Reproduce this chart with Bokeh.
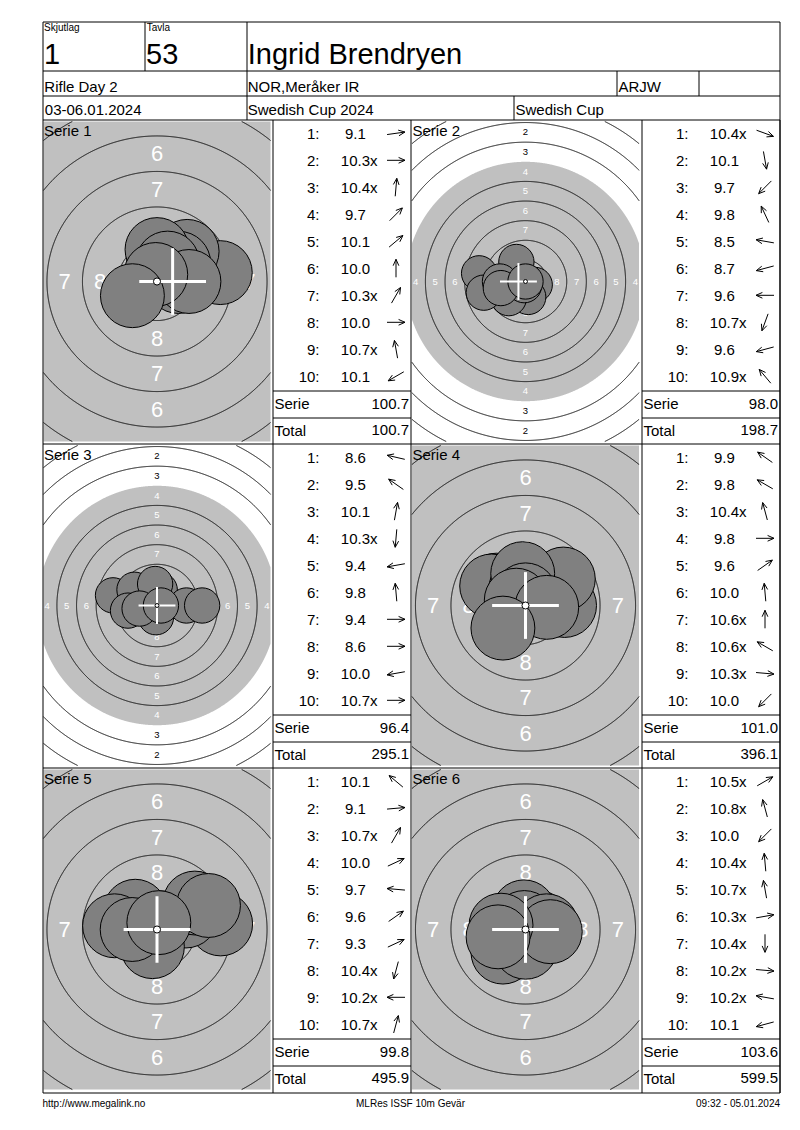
import numpy as np
from bokeh.plotting import figure
from bokeh.models import Range1d
from bokeh.core.properties import value
from bokeh.embed import file_html
from bokeh.resources import INLINE

# ---------------- data ----------------
relay_label = "Skjutlag"
target_label = "Tavla"
relay = "1"
target_no = "53"
shooter = "Ingrid Brendryen"
event_name = "Rifle Day 2"
club = "NOR,Meråker IR"
shooter_class = "ARJW"
dates = "03-06.01.2024"
competition = "Swedish Cup 2024"
cup_name = "Swedish Cup"
footer_left = "http://www.megalink.no"
footer_mid = "MLRes ISSF 10m Gevär"
footer_right = "09:32 - 05.01.2024"

series_names = ["Serie 1", "Serie 2", "Serie 3", "Serie 4", "Serie 5", "Serie 6"]

serie1_scores = ["9.1", "10.3x", "10.4x", "9.7", "10.1", "10.0", "10.3x", "10.0", "10.7x", "10.1"]
serie1_dir_deg = [8, 0, 85, 45, 40, 90, 60, 0, 100, 210]
serie2_scores = ["10.4x", "10.1", "9.7", "9.8", "8.5", "8.7", "9.6", "10.7x", "9.6", "10.9x"]
serie2_dir_deg = [-20, -80, 225, 115, 170, 195, 180, 250, 195, 130]
serie3_scores = ["8.6", "9.5", "10.1", "10.3x", "9.4", "9.8", "9.4", "8.6", "10.0", "10.7x"]
serie3_dir_deg = [167, 145, 80, 265, 190, 95, 0, 0, 190, 0]
serie4_scores = ["9.9", "9.8", "10.4x", "9.8", "9.6", "10.0", "10.6x", "10.6x", "10.3x", "10.0"]
serie4_dir_deg = [145, 150, 105, 0, 35, 95, 90, 150, -5, 225]
serie5_scores = ["10.1", "9.1", "10.7x", "10.0", "9.7", "9.6", "9.3", "10.4x", "10.2x", "10.7x"]
serie5_dir_deg = [140, 5, 60, 25, 175, 35, 25, 255, 180, 75]
serie6_scores = ["10.5x", "10.8x", "10.0", "10.4x", "10.7x", "10.3x", "10.4x", "10.2x", "10.2x", "10.1"]
serie6_dir_deg = [30, 105, 225, 95, 100, 10, 270, -5, 170, 195]

series_sum = ["100.7", "98.0", "96.4", "101.0", "99.8", "103.6"]
running_total = ["100.7", "198.7", "295.1", "396.1", "495.9", "599.5"]

# marked cross (offset from target centre, mm)
cross_x_mm = [1.1, -0.9, 0.0, 0.0, 0.0, 0.0]
cross_y_mm = [0.0, 0.0, 0.0, 0.0, 0.0, 0.0]

# ISSF 10 m air rifle target geometry (mm)
ring_numbers = [1, 2, 3, 4, 5, 6, 7, 8, 9]
ring_radius_mm = [22.75, 20.25, 17.75, 15.25, 12.75, 10.25, 7.75, 5.25, 2.75]
band_numbers = [1, 2, 3, 4, 5, 6, 7, 8]
band_mid_mm = [21.5, 19.0, 16.5, 14.0, 11.5, 9.0, 6.5, 4.0]
aim_radius_mm = 15.25
ten_dot_mm = 0.25
pellet_radius_mm = 2.25
cross_half_mm = 2.35

all_scores = [serie1_scores, serie2_scores, serie3_scores, serie4_scores, serie5_scores, serie6_scores]
all_dirs = [serie1_dir_deg, serie2_dir_deg, serie3_dir_deg, serie4_dir_deg, serie5_dir_deg, serie6_dir_deg]

# ---------------- styles / layout ----------------
FONT = value("Liberation Sans")
GRAY = "#c0c0c0"
SHOT = "#808080"
ZOOM_IN, ZOOM_OUT = 14.2, 7.85                           # px per mm (view zoom)
panel_scale = [ZOOM_IN, ZOOM_OUT, ZOOM_OUT, ZOOM_IN, ZOOM_IN, ZOOM_IN]
label_size = {ZOOM_IN: "22px", ZOOM_OUT: "9.5px"}
cross_width = {ZOOM_IN: 3, ZOOM_OUT: 2}

XL, XR, YT, YB = 42.5, 779.5, 21.5, 1092.5
row_tops = [119.5, 443.5, 767.5]
img_cols = [(43.0, 270.0), (411.5, 638.5)]
tab_cols = [(272.5, 410.5), (641.5, 779.5)]

p = figure(width=784, height=1114, x_range=Range1d(0, 784), y_range=Range1d(1114, 0),
           output_backend="svg", toolbar_location=None, min_border=0,
           x_axis_type=None, y_axis_type=None)
p.outline_line_color = None
p.grid.visible = False
p.background_fill_color = "white"
p.border_fill_color = "white"


def clip_ring(cx, cy, r, x0, x1, y0, y1, n=4000):
    t = np.linspace(0, 2 * np.pi, n, endpoint=False)
    x = cx + r * np.cos(t)
    y = cy + r * np.sin(t)
    inside = (x >= x0) & (x <= x1) & (y >= y0) & (y <= y1)
    if inside.all():
        return [(np.append(x, x[0]), np.append(y, y[0]))]
    if not inside.any():
        return []
    k = int(np.argmin(inside))
    x = np.roll(x, -k); y = np.roll(y, -k); inside = np.roll(inside, -k)
    x = np.append(x, x[0]); y = np.append(y, y[0]); inside = np.append(inside, inside[0])
    segs = []
    i, m = 0, len(x)
    while i < m:
        if inside[i]:
            j = i
            while j < m and inside[j]:
                j += 1
            a, b = max(i - 1, 0), min(j + 1, m)
            segs.append((np.clip(x[a:b], x0, x1), np.clip(y[a:b], y0, y1)))
            i = j
        else:
            i += 1
    return segs


for k in range(6):
    row, col = k // 2, k % 2
    x0, x1 = img_cols[col]
    y0, y1 = row_tops[row] + 1.5, row_tops[row] + 321.5
    cx, cy = (x0 + x1) / 2, (y0 + y1) / 2
    s = panel_scale[k]

    # aiming mark (grey disk), clipped to the view
    t = np.linspace(0, 2 * np.pi, 1500)
    gx = np.clip(cx + aim_radius_mm * s * np.cos(t), x0, x1)
    gy = np.clip(cy + aim_radius_mm * s * np.sin(t), y0, y1)
    p.patch(gx, gy, fill_color=GRAY, line_color=None)

    # ring lines (the aiming-mark edge itself has no line)
    segs = []
    for rr in ring_radius_mm:
        if abs(rr - aim_radius_mm) < 1e-9:
            continue
        segs += clip_ring(cx, cy, rr * s, x0, x1, y0, y1)
    p.multi_line([sg[0] for sg in segs], [sg[1] for sg in segs], line_color="black", line_width=1)

    # ring numbers
    lx, ly, lt, lc = [], [], [], []
    for bn, bm in zip(band_numbers, band_mid_mm):
        d = bm * s
        for (px_, py_) in [(cx, cy - d), (cx, cy + d), (cx - d, cy), (cx + d, cy)]:
            if x0 + 1 <= px_ <= x1 - 1 and y0 + 1 <= py_ <= y1 - 1:
                lx.append(px_); ly.append(py_); lt.append(str(bn))
                lc.append("white" if bm < aim_radius_mm else "black")
    p.text(lx, ly, text=lt, text_color=lc, text_font=FONT, text_font_size=value(label_size[s]),
           text_align="center", text_baseline="middle")

    # shots
    vals = [float(v.rstrip("x")) for v in all_scores[k]]
    ang = np.radians(all_dirs[k])
    dist = (10.9 - np.array(vals)) * 2.5 * s
    sx = cx + dist * np.cos(ang)
    sy = cy - dist * np.sin(ang)
    p.circle(sx, sy, radius=pellet_radius_mm * s, fill_color=SHOT, line_color="black", line_width=1)

    # cross
    mx, my = cx + cross_x_mm[k] * s, cy - cross_y_mm[k] * s
    L = cross_half_mm * s
    p.segment([mx - L, mx], [my, my - L], [mx + L, mx], [my, my + L],
              line_color="white", line_width=cross_width[s])

    # ten dot
    p.circle([cx], [cy], radius=ten_dot_mm * s, fill_color="white", line_color="black", line_width=1)

# ---------------- grid lines ----------------
lines = [
    (XL, YT, XR, YT), (XL, YB, XR, YB), (XL, YT, XL, YB), (XR, YT, XR, YB),
    (XL, 70.5, XR, 70.5), (XL, 95.5, XR, 95.5), (XL, 119.5, XR, 119.5),
    (144.5, YT, 144.5, 70.5), (246.5, YT, 246.5, 119.5),
    (616.5, 70.5, 616.5, 95.5), (698.5, 70.5, 698.5, 95.5),
    (513.5, 95.5, 513.5, 119.5),
    (XL, 443.5, XR, 443.5), (XL, 767.5, XR, 767.5),
]
for (a, b) in tab_cols:
    lines.append((a, 119.5, a, YB))
    lines.append((b, 119.5, b, YB))
    for rt in row_tops:
        lines.append((a, rt + 271, b, rt + 271))
        lines.append((a, rt + 298, b, rt + 298))
p.segment([l[0] for l in lines], [l[1] for l in lines], [l[2] for l in lines], [l[3] for l in lines],
          line_color="black", line_width=1)


def ymid(baseline, size):
    return baseline - 0.35 * size


def txt(x, baseline, s, size, align="left", color="black"):
    p.text([x], [ymid(baseline, size)], text=[s], text_font=FONT, text_font_size=value(f"{size}px"),
           text_align=align, text_baseline="middle", text_color=color)


# header
txt(43.5, 30.5, relay_label, 10)
txt(146.3, 30.5, target_label, 10)
txt(43.5, 63.3, relay, 29)
txt(145.5, 63.3, target_no, 29)
txt(247.3, 63.3, shooter, 29)
txt(43.8, 91.3, event_name, 15)
txt(247.2, 91.3, club, 15)
txt(618.0, 91.3, shooter_class, 15)
txt(44.3, 114.7, dates, 15)
txt(247.2, 114.7, competition, 15)
txt(515.0, 114.7, cup_name, 15)

# tables
for k in range(6):
    row, col = k // 2, k % 2
    a, b = tab_cols[col]
    rt = row_tops[row]
    nx, ny, nt, vx, vt = [], [], [], [], []
    ax0, ay0, ax1, ay1 = [], [], [], []
    for i, sc in enumerate(all_scores[k]):
        base = rt + 18.8 + 27.0 * i
        nx.append(a + 46.5); ny.append(ymid(base, 15)); nt.append(f"{i + 1}:")
        v = float(sc.rstrip("x"))
        vx.append(a + 67.8 + (4.2 if v < 10 else 0.0)); vt.append(sc)
        th = np.radians(all_dirs[k][i])
        ux, uy = np.cos(th), -np.sin(th)
        ccx, ccy = a + 123.0, base - 5.5
        tx, ty = ccx + 9 * ux, ccy + 9 * uy
        ax0.append(ccx - 9 * ux); ay0.append(ccy - 9 * uy); ax1.append(tx); ay1.append(ty)
        for sgn in (1, -1):
            ha = th + np.pi + sgn * np.radians(24)
            ax0.append(tx); ay0.append(ty)
            ax1.append(tx + 7 * np.cos(ha)); ay1.append(ty - 7 * np.sin(ha))
    p.text(nx, ny, text=nt, text_font=FONT, text_font_size=value("15px"), text_align="right",
           text_baseline="middle")
    p.text(vx, ny, text=vt, text_font=FONT, text_font_size=value("15px"), text_align="left",
           text_baseline="middle")
    p.segment(ax0, ay0, ax1, ay1, line_color="black", line_width=1)
    txt(a + 1.5, rt + 288.8, "Serie", 15)
    txt(b - 2.0, rt + 288.8, series_sum[k], 15, align="right")
    txt(a + 1.5, rt + 315.5, "Total", 15)
    txt(b - 2.0, rt + 315.5, running_total[k], 15, align="right")

# serie titles on the targets
for k in range(6):
    row, col = k // 2, k % 2
    txt(img_cols[col][0] + 0.5, row_tops[row] + 15.5, series_names[k], 15)

# footer
txt(42.0, 1106.0, footer_left, 10)
txt(410.0, 1106.0, footer_mid, 10, align="center")
txt(779.5, 1106.0, footer_right, 10, align="right")

open("out.html", "w").write(file_html(p, INLINE))
